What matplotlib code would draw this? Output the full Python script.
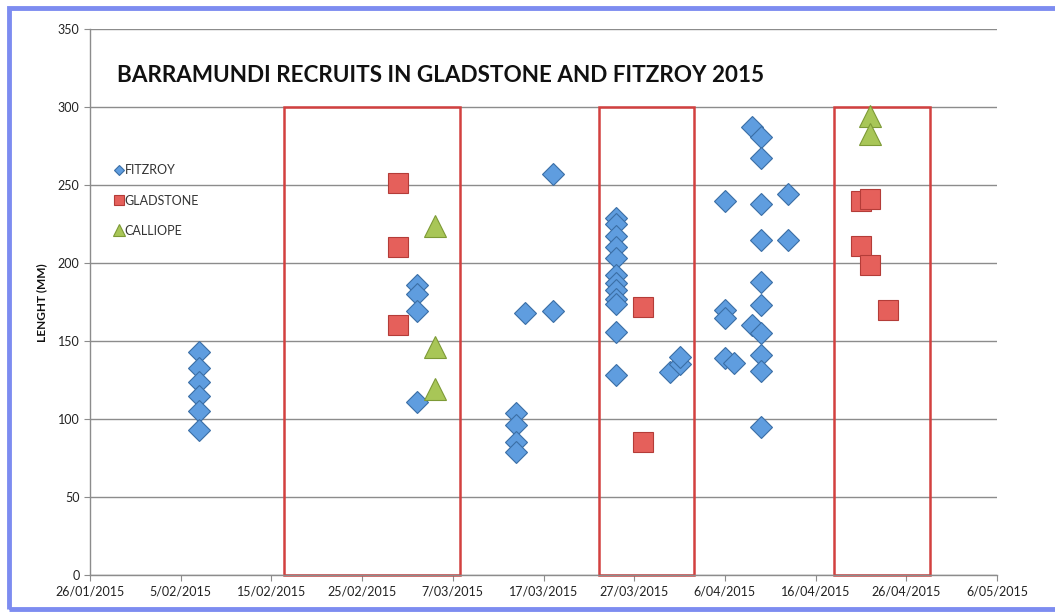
"""Barramundi recruits scatter (Gladstone / Fitzroy 2015)."""

import matplotlib

matplotlib.use("Agg")
import matplotlib.dates as mdates
import matplotlib.pyplot as plt
import pandas as pd
from matplotlib.patches import Rectangle
from matplotlib.ticker import FuncFormatter, MultipleLocator

plt.rcParams["font.family"] = ["Lato", "DejaVu Sans"]

# --- data ------------------------------------------------------------------
fitzroy_dates = (
    ["2015-02-07"] * 6
    + ["2015-03-03"] * 4
    + ["2015-03-18"] * 2
    + ["2015-03-15"]
    + ["2015-03-14"] * 4
    + ["2015-03-25"] * 12
    + ["2015-03-31"]
    + ["2015-04-01"] * 2
    + ["2015-04-06"] * 4
    + ["2015-04-07"]
    + ["2015-04-09"] * 2
    + ["2015-04-10"] * 10
    + ["2015-04-13"] * 2
)
fitzroy_len = [
    143, 133, 124, 115, 105, 93,
    186, 180, 169, 111,
    257, 169,
    168,
    104, 96, 85, 79,
    229, 225, 217, 210, 203, 192, 187, 183, 177, 174, 156, 128,
    130,
    135, 140,
    240, 170, 165, 139,
    136,
    287, 160,
    281, 267, 238, 215, 188, 173, 155, 141, 131, 95,
    244, 215,
]

gladstone_dates = ["2015-03-01"] * 3 + ["2015-03-28"] * 2 + ["2015-04-21"] * 2 + ["2015-04-22"] * 2 + ["2015-04-24"]
gladstone_len = [251, 210, 160, 172, 85, 240, 211, 241, 199, 170]

calliope_dates = ["2015-03-05"] * 3 + ["2015-04-22"] * 2
calliope_len = [224, 146, 119, 294, 283]

# highlighted sampling windows (drawn boxes)
box_starts = ["2015-02-16 10:00", "2015-03-23 02:00", "2015-04-18 00:00"]
box_ends = ["2015-03-07 19:00", "2015-04-02 14:00", "2015-04-28 14:00"]
box_top = 300

x_start, x_end = "2015-01-26", "2015-05-06"

# --- figure -----------------------------------------------------------------
W, H = 1055, 615
fig = plt.figure(figsize=(W / 100, H / 100), dpi=100)
ax = fig.add_axes([90 / W, 1 - 575 / H, 907 / W, 546 / H])

grid_c = "#8c8c8c"
ax.set_ylim(0, 350)
ax.yaxis.set_major_locator(MultipleLocator(50))
ax.grid(axis="y", color=grid_c, linewidth=1.0)
ax.set_axisbelow(True)
for side in ("top", "right"):
    ax.spines[side].set_visible(False)
for side in ("left", "bottom"):
    ax.spines[side].set_color(grid_c)
    ax.spines[side].set_linewidth(1.0)

x0, x1 = pd.Timestamp(x_start), pd.Timestamp(x_end)
ax.set_xlim(x0, x1)
ax.set_xticks(pd.date_range(x0, x1, freq="10D"))
ax.xaxis.set_major_formatter(
    FuncFormatter(lambda v, _: (lambda d: f"{d.day}/{d.month:02d}/{d.year}")(mdates.num2date(v)))
)
ax.tick_params(axis="both", labelsize=9, colors="#222222", length=4, width=0.8)
ax.tick_params(axis="both", color=grid_c)

for s, e in zip(box_starts, box_ends):
    s, e = mdates.date2num(pd.Timestamp(s)), mdates.date2num(pd.Timestamp(e))
    ax.add_patch(Rectangle((s, 0), e - s, box_top, fill=False, edgecolor="#d2403f",
                           linewidth=1.8, zorder=2, clip_on=False))

ax.plot(pd.to_datetime(gladstone_dates), gladstone_len, "s", ms=14, mfc="#e5605b", mec="#b43c38",
        mew=0.8, zorder=3, label="GLADSTONE")
ax.plot(pd.to_datetime(fitzroy_dates), fitzroy_len, "D", ms=11, mfc="#5f9ddf", mec="#3b6ea5",
        mew=0.8, zorder=4, label="FITZROY")
ax.plot(pd.to_datetime(calliope_dates), calliope_len, "^", ms=16, mfc="#a8c657", mec="#7d9a36",
        mew=0.8, zorder=5, label="CALLIOPE")

handles, labels = ax.get_legend_handles_labels()
order = [1, 0, 2]
ax.legend([handles[i] for i in order], [labels[i] for i in order], loc="upper left",
          bbox_to_anchor=(0.028, 0.752), frameon=False, fontsize=9, markerscale=0.5,
          handlelength=0.6, handletextpad=0.15, labelspacing=1.45, borderpad=0, borderaxespad=0,
          labelcolor="#333333")

fig.text(117 / W, 1 - 75 / H, "BARRAMUNDI RECRUITS IN GLADSTONE AND FITZROY 2015",
         fontsize=16.2, fontweight="bold", va="center", ha="left", color="#111111")
fig.text(42 / W, 1 - 303 / H, "LENGHT (MM)", rotation=90, fontsize=8.5, fontweight="bold",
         va="center", ha="center", color="#111111")

# blue window border round the screenshot
fig.add_artist(Rectangle((9 / W, 1 - 609 / H), 1.05, (609 - 8) / H, transform=fig.transFigure,
                         fill=False, edgecolor="#7d8cf0", linewidth=3.5))

fig.savefig("out.png", dpi=100)
